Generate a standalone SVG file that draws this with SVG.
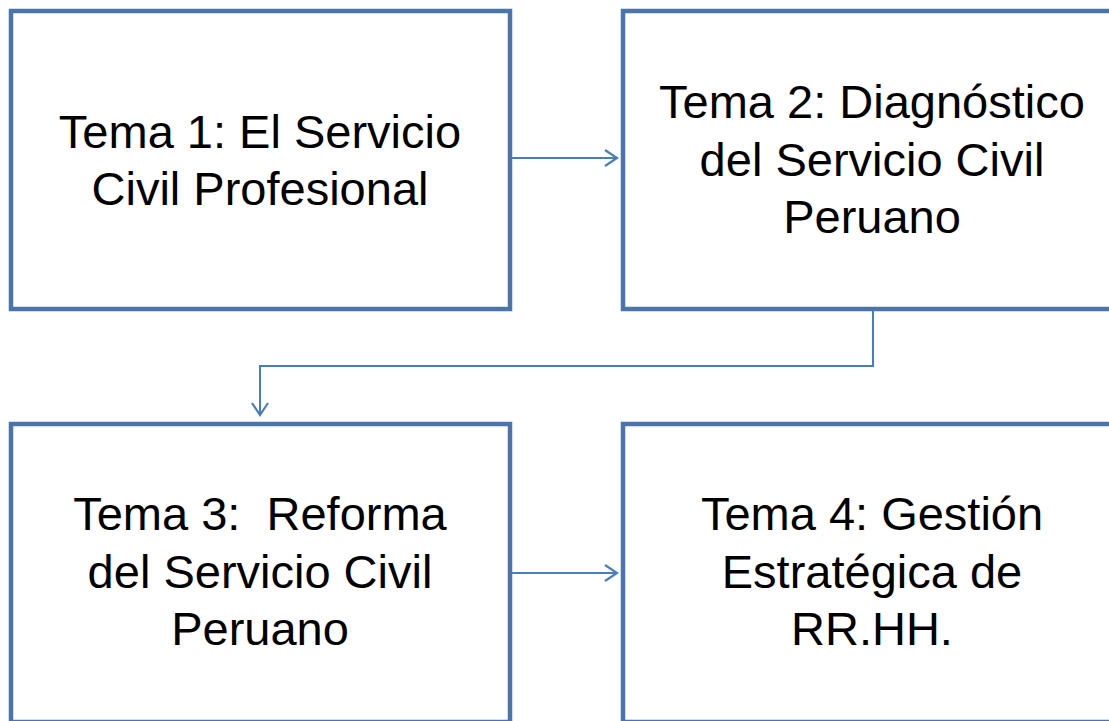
<svg xmlns="http://www.w3.org/2000/svg" width="1109" height="721" viewBox="0 0 1109 721">
<style>
.box{fill:#ffffff;stroke:#4a74ab;stroke-width:4.5}
.lbl{font-family:"Liberation Sans",Arial,sans-serif;font-size:47px;fill:#000000;text-anchor:middle;white-space:pre}
.conn{fill:none;stroke:#4a7ebb;stroke-width:2}
</style>
<defs>
<marker id="arr" markerUnits="userSpaceOnUse" markerWidth="20" markerHeight="20" viewBox="-14 -10 16 20" refX="0" refY="0" orient="auto">
<path d="M-12,-8 L0,0 L-12,8" fill="none" stroke="#4a7ebb" stroke-width="2.2"/>
</marker>
</defs>
<rect width="1109" height="721" fill="#ffffff"/>
<g id="node1">
<rect class="box" x="11" y="11" width="499" height="298"/>
<text class="lbl" x="260" y="148">Tema 1: El Servicio</text>
<text class="lbl" x="260" y="205">Civil Profesional</text>
</g>
<g id="node2">
<rect class="box" x="623" y="11" width="499" height="298"/>
<text class="lbl" x="872" y="118">Tema 2: Diagnóstico</text>
<text class="lbl" x="872" y="176">del Servicio Civil</text>
<text class="lbl" x="872" y="233">Peruano</text>
</g>
<g id="node3">
<rect class="box" x="11" y="424" width="499" height="298"/>
<text class="lbl" x="260" y="530" xml:space="preserve">Tema 3:  Reforma</text>
<text class="lbl" x="260" y="588">del Servicio Civil</text>
<text class="lbl" x="260" y="645">Peruano</text>
</g>
<g id="node4">
<rect class="box" x="623" y="424" width="499" height="298"/>
<text class="lbl" x="872" y="530">Tema 4: Gestión</text>
<text class="lbl" x="872" y="588">Estratégica de</text>
<text class="lbl" x="872" y="645">RR.HH.</text>
</g>
<g id="connectors">
<path class="conn" d="M512,158 L617,158" marker-end="url(#arr)"/>
<path class="conn" d="M873,311 L873,366 L260,366 L260,415" marker-end="url(#arr)"/>
<path class="conn" d="M512,573 L617,573" marker-end="url(#arr)"/>
</g>
</svg>
